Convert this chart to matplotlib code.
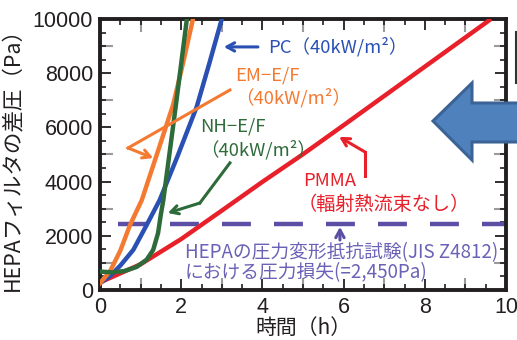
import matplotlib
matplotlib.use("Agg")
import matplotlib.pyplot as plt
from matplotlib.ticker import MultipleLocator
from matplotlib.patches import Polygon
from matplotlib.lines import Line2D

# ---- data: HEPA filter pressure difference vs. time ----
t_pmma = [0, 1, 2, 3, 4, 5, 6, 7, 8, 9, 9.63]
p_pmma = [280, 950, 1880, 2930, 3990, 5010, 6080, 7160, 8240, 9320, 10000]

t_pc = [0, 0.25, 0.5, 0.82, 1.15, 1.47, 1.9, 2.38, 2.7, 3.0]
p_pc = [250, 520, 900, 1480, 2400, 3320, 4900, 6750, 8400, 10000]

t_em = [0, 0.25, 0.5, 0.74, 1.03, 1.4, 1.8, 2.05, 2.29]
p_em = [250, 700, 1450, 2400, 3320, 5000, 6830, 8400, 10000]

t_nh = [0, 0.3, 0.6, 0.9, 1.15, 1.31, 1.43, 1.5, 1.56, 1.87, 2.14]
p_nh = [680, 650, 700, 850, 1120, 1480, 2100, 2800, 3320, 6830, 10000]

hepa_limit = 2450

x_ticks = [0, 2, 4, 6, 8, 10]
y_ticks = [0, 2000, 4000, 6000, 8000, 10000]

C_RED = "#e8202a"
C_BLUE = "#2a50b4"
C_ORANGE = "#f47a32"
C_GREEN = "#2e6b3a"
C_PURPLE = "#5a4fa4"
C_PURPLE_TXT = "#6a62b6"
C_INK = "#231f20"

JP = ["Noto Sans CJK JP", "DejaVu Sans"]
NUM = ["Liberation Sans", "DejaVu Sans"]

W, H = 517, 340
fig = plt.figure(figsize=(W / 100, H / 100), dpi=100)
fig.patch.set_facecolor("white")
ax = fig.add_axes([100 / W, 1 - 290 / H, 406 / W, 271 / H])

lw = 3.2
ax.plot(t_pmma, p_pmma, color=C_RED, lw=lw, zorder=3, solid_capstyle="butt")
ax.plot(t_pc, p_pc, color=C_BLUE, lw=lw, zorder=4)
ax.plot(t_em, p_em, color=C_ORANGE, lw=lw, zorder=4)
ax.plot(t_nh, p_nh, color=C_GREEN, lw=lw, zorder=5)

# pressure-loss threshold from the JIS Z4812 deformation test
ax.axhline(hepa_limit, xmin=0.044, xmax=1.0, color=C_PURPLE, lw=3.2,
           dashes=(6.5, 5.2), zorder=2)

ax.set_xlim(0, 10)
ax.set_ylim(0, 10000)
ax.set_xticks(x_ticks)
ax.set_yticks(y_ticks)
ax.xaxis.set_minor_locator(MultipleLocator(0.5))
ax.yaxis.set_minor_locator(MultipleLocator(500))
ax.set_xticklabels([str(v) for v in x_ticks], family=NUM, fontsize=15.5, color=C_INK)
ax.set_yticklabels([str(v) for v in y_ticks], family=NUM, fontsize=15.5, color=C_INK)
ax.tick_params(which="major", direction="in", length=8, width=1.3, color=C_INK,
               top=True, right=True, pad=5)
ax.tick_params(which="minor", direction="in", length=4.5, width=1.2, color=C_INK,
               top=True, right=True)
for s in ax.spines.values():
    s.set_linewidth(2.8)
    s.set_color(C_INK)

# longer grey ticks at the odd grid positions
for side in ("bottom", "top"):
    sec = ax.secondary_xaxis(side)
    sec.set_xticks([1, 3, 5, 7, 9])
    sec.tick_params(direction="in", length=9, width=1.5, color="#9a9a9a",
                    labelbottom=False, labeltop=False)
    sec.xaxis.set_minor_locator(plt.NullLocator())
    for s in sec.spines.values():
        s.set_visible(False)
for side in ("left", "right"):
    sec = ax.secondary_yaxis(side)
    sec.set_yticks([1000, 3000, 5000, 7000, 9000])
    sec.tick_params(direction="in", length=9, width=1.5, color="#9a9a9a",
                    labelleft=False, labelright=False)
    sec.yaxis.set_minor_locator(plt.NullLocator())
    for s in sec.spines.values():
        s.set_visible(False)

ax.set_xlabel("時間（h）", family=JP, fontsize=15, color=C_INK, labelpad=-1)
ax.set_ylabel("HEPAフィルタの差圧（Pa）", family=JP, fontsize=15.5, color=C_INK,
              labelpad=6)

# ---- annotations ----
fs = 13.3
arrow_kw = dict(arrowstyle="->,head_length=0.55,head_width=0.3", lw=2.2,
                shrinkA=0, shrinkB=0)

# PC
ax.text(4.14, 8970, "PC（40kW/m²）", family=JP, fontsize=fs, color=C_BLUE,
        va="center", ha="left")
ax.annotate("", xy=(3.05, 8970), xytext=(3.89, 8970),
            arrowprops=dict(color=C_BLUE, **arrow_kw))

# EM-E/F
ax.text(3.33, 7900, "EM−E/F", family=JP, fontsize=fs, color=C_ORANGE,
        va="center", ha="left")
ax.text(3.33, 7080, "（40kW/m²）", family=JP, fontsize=fs, color=C_ORANGE,
        va="center", ha="left")
ax.plot([3.20, 0.69], [7380, 5240], color=C_ORANGE, lw=2.2, zorder=6)
ax.annotate("", xy=(1.31, 4870), xytext=(0.69, 5240),
            arrowprops=dict(color=C_ORANGE, **arrow_kw), zorder=6)

# NH-E/F
ax.text(2.46, 6020, "NH−E/F", family=JP, fontsize=fs, color=C_GREEN,
        va="center", ha="left")
ax.text(2.46, 5170, "（40kW/m²）", family=JP, fontsize=fs, color=C_GREEN,
        va="center", ha="left")
ax.plot([3.20, 2.46], [4690, 3210], color=C_GREEN, lw=2.2, zorder=6)
ax.annotate("", xy=(1.67, 2840), xytext=(2.46, 3210),
            arrowprops=dict(color=C_GREEN, **arrow_kw), zorder=6)

# PMMA
ax.text(5.0, 4030, "PMMA", family=JP, fontsize=fs, color=C_RED,
        va="center", ha="left")
ax.text(4.88, 3170, "（輻射熱流束なし）", family=JP, fontsize=13.8, color=C_RED,
        va="center", ha="left")
ax.plot([6.53, 6.53], [4210, 5090], color=C_RED, lw=2.2, zorder=6)
ax.annotate("", xy=(5.89, 5650), xytext=(6.53, 5090),
            arrowprops=dict(color=C_RED, **arrow_kw), zorder=6)

# HEPA limit label
ax.text(2.09, 1370, "HEPAの圧力変形抵抗試験(JIS Z4812)", family=JP, fontsize=13.5,
        color=C_PURPLE_TXT, va="center", ha="left")
ax.text(2.09, 630, "における圧力損失(=2,450Pa)", family=JP, fontsize=13.5,
        color=C_PURPLE_TXT, va="center", ha="left")
ax.annotate("", xy=(5.91, 2330), xytext=(5.91, 1845),
            arrowprops=dict(color=C_PURPLE, **arrow_kw))


def fpx(x, y):
    """pixel position (from top-left) -> figure fraction"""
    return (x / W, 1 - y / H)


# large left-pointing block arrow at the right margin
arrow_px = [(433, 121), (472, 83), (472, 103), (540, 103),
            (540, 142), (472, 142), (472, 160)]
fig.patches.append(Polygon([fpx(*p) for p in arrow_px], closed=True,
                           transform=fig.transFigure, facecolor="#4f81bd",
                           edgecolor="#3b6396", lw=2.2, zorder=10))

# edge of a neighbouring frame
fig.lines.append(Line2D([515.5 / W, 515.5 / W], [1 - 32 / H, 1 - 83 / H],
                        transform=fig.transFigure, color="#333333", lw=1.5))

fig.savefig("out.png", dpi=100, facecolor="white")
